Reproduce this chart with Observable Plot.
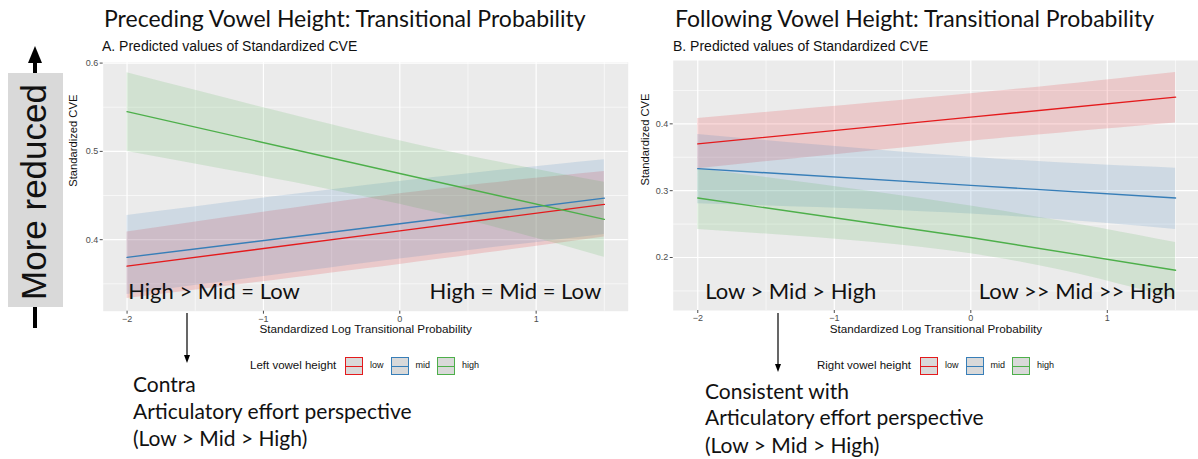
<!DOCTYPE html>
<html><head><meta charset="utf-8">
<script src="https://cdn.jsdelivr.net/npm/d3@7"></script>
<script src="https://cdn.jsdelivr.net/npm/@observablehq/plot@0.6"></script>
<style>
html,body{margin:0;padding:0;background:#fff;}
#root{position:relative;width:1198px;height:459px;overflow:hidden;}
.abs{position:absolute;white-space:nowrap;}
.big{font-family:Lato,"Open Sans",sans-serif;color:#111;}
.sub{font-family:"Liberation Sans",Arial,sans-serif;color:#111;}
.leg{font-family:"Liberation Sans",Arial,sans-serif;color:#111;}
svg.plot{position:absolute;top:0;}
</style></head>
<body><div id="root"></div>
<script>
// ---- data ----
const xPts = [-2, 0, 1.5];
const levels = ["low", "mid", "high"];
const colors = ["#E41A1C", "#377EB8", "#4DAF4A"];

// Panel A: preceding (left) vowel height
const precLowFit  = [0.370, 0.410, 0.440];
const precLowLo   = [0.3335, 0.372, 0.403];
const precLowHi   = [0.4086, 0.452, 0.4773];
const precMidFit  = [0.380, 0.418, 0.447];
const precMidLo   = [0.338, 0.378, 0.406];
const precMidHi   = [0.4275, 0.466, 0.4906];
const precHighFit = [0.545, 0.475, 0.423];
const precHighLo  = [0.500, 0.440, 0.380];
const precHighHi  = [0.589, 0.512, 0.465];

// Panel B: following (right) vowel height
const follLowFit  = [0.370, 0.410, 0.440];
const follLowLo   = [0.333, 0.374, 0.4014];
const follLowHi   = [0.408, 0.445, 0.477];
const follMidFit  = [0.333, 0.308, 0.289];
const follMidLo   = [0.2805, 0.265, 0.242];
const follMidHi   = [0.384, 0.350, 0.3336];
const follHighFit = [0.289, 0.230, 0.181];
const follHighLo  = [0.242, 0.2055, 0.138];
const follHighHi  = [0.333, 0.277, 0.2225];

const xMajor = [-2, -1, 0, 1];
const xMinor = [-1.5, -0.5, 0.5, 1.5];
const aYMajor = [0.4, 0.5, 0.6];
const aYMinor = [0.35, 0.45, 0.55];
const bYMajor = [0.2, 0.3, 0.4];
const bYMinor = [0.15, 0.25, 0.35, 0.45];

function rows(fits, los, his) {
  const out = [];
  levels.forEach((g, gi) => xPts.forEach((x, i) => out.push({group: g, x, fit: fits[gi][i], lo: los[gi][i], hi: his[gi][i]})));
  return out;
}
const dataA = rows([precLowFit, precMidFit, precHighFit], [precLowLo, precMidLo, precHighLo], [precLowHi, precMidHi, precHighHi]);
const dataB = rows([follLowFit, follMidFit, follHighFit], [follLowLo, follMidLo, follHighLo], [follLowHi, follMidHi, follHighHi]);

const fmtX = d => d < 0 ? "\u2212" + (-d) : String(d);
const fmtY = d => d.toFixed(1);

function panel(opts) {
  return Plot.plot({
    width: opts.width, height: 459,
    marginLeft: opts.ml, marginRight: opts.mr, marginTop: opts.mt, marginBottom: 459 - opts.bottom,
    x: {domain: opts.xdom},
    y: {domain: opts.ydom},
    color: {domain: levels, range: colors},
    style: {background: "transparent", overflow: "visible"},
    marks: [
      Plot.frame({fill: "#EBEBEB", stroke: null}),
      Plot.ruleY(opts.yMinor, {stroke: "white", strokeWidth: 0.6}),
      Plot.ruleX(xMinor, {stroke: "white", strokeWidth: 0.6}),
      Plot.ruleY(opts.yMajor, {stroke: "white", strokeWidth: 1.2}),
      Plot.ruleX(xMajor, {stroke: "white", strokeWidth: 1.2}),
      Plot.areaY(opts.data, {x: "x", y1: "lo", y2: "hi", z: "group", fill: "group", fillOpacity: 0.16, curve: "natural"}),
      Plot.line(opts.data, {x: "x", y: "fit", z: "group", stroke: "group", strokeWidth: 1.4}),
      Plot.axisX({ticks: xMajor, tickFormat: fmtX, tickSize: 3, tickPadding: 1, fontSize: 9, color: "#4D4D4D", label: null, fontFamily: "Liberation Sans"}),
      Plot.axisY({ticks: opts.yMajor, tickFormat: fmtY, tickSize: 3, tickPadding: 2, fontSize: 9, color: "#4D4D4D", label: null, fontFamily: "Liberation Sans"}),
      Plot.text(["Standardized Log Transitional Probability"], {frameAnchor: "bottom", dy: 22, fontSize: 11.7, fill: "#111", fontFamily: "Liberation Sans"}),
      Plot.text(["Standardized CVE"], {frameAnchor: "left", dx: opts.ytdx, rotate: -90, fontSize: 11.2, fill: "#111", fontFamily: "Liberation Sans"}),
      Plot.text([opts.noteL], {frameAnchor: "bottom-left", dx: opts.noteLdx, dy: -12, textAnchor: "start", fontSize: 22, fill: "#111", fontFamily: "Lato"}),
      Plot.text([opts.noteR], {frameAnchor: "bottom-right", dx: opts.noteRdx, dy: -12, textAnchor: "end", fontSize: 22, fill: "#111", fontFamily: "Lato"})
    ]
  });
}

const root = document.getElementById("root");
const pA = panel({width: 640, ml: 102.7, mr: 12.3, mt: 61.7, bottom: 310.7, xdom: [-2.175, 1.675], ydom: [0.319, 0.601],
  yMajor: aYMajor, yMinor: aYMinor, data: dataA, ytdx: -30, noteL: "High > Mid = Low", noteLdx: 25, noteR: "High = Mid = Low", noteRdx: -27});
pA.setAttribute("class", "plot"); pA.style.left = "0px";
root.appendChild(pA);
const pB = panel({width: 558, ml: 32.7, mr: 0, mt: 60, bottom: 310, xdom: [-2.18, 1.668], ydom: [0.1207, 0.4948],
  yMajor: bYMajor, yMinor: bYMinor, data: dataB, ytdx: -28, noteL: "Low > Mid > High", noteLdx: 32, noteR: "Low >> Mid >> High", noteRdx: -23});
pB.setAttribute("class", "plot"); pB.style.left = "640px";
root.appendChild(pB);

function addText(txt, cls, x, y, size, extra) {
  const d = document.createElement("div");
  d.className = "abs " + cls;
  d.textContent = txt;
  d.style.left = x + "px"; d.style.top = y + "px"; d.style.fontSize = size + "px"; d.style.lineHeight = "1";
  if (extra) Object.assign(d.style, extra);
  root.appendChild(d);
  return d;
}
addText("Preceding Vowel Height: Transitional Probability", "big", 104, 7, 23);
addText("Following Vowel Height: Transitional Probability", "big", 675, 7, 23);
addText("A. Predicted values of Standardized CVE", "sub", 102, 39, 14);
addText("B. Predicted values of Standardized CVE", "sub", 673, 39, 14);
addText("Contra", "big", 133, 373, 21);
addText("Articulatory effort perspective", "big", 133, 400, 21);
addText("(Low > Mid > High)", "big", 133, 427, 21);
addText("Consistent with", "big", 705, 380, 21);
addText("Articulatory effort perspective", "big", 705, 406, 21);
addText("(Low > Mid > High)", "big", 705, 434, 21);

// legends
function legend(title, x0, keyXs, y) {
  addText(title, "leg", x0, y - 6, 11.5);
  levels.forEach((g, i) => {
    const k = document.createElement("div");
    k.className = "abs";
    Object.assign(k.style, {left: keyXs[i] + "px", top: (y - 9) + "px", width: "16px", height: "16px",
      border: "1px solid " + colors[i], background: "#D9D9D9"});
    const ln = document.createElement("div");
    Object.assign(ln.style, {position: "absolute", left: "0", top: "7.5px", width: "16px", height: "1.3px", background: colors[i]});
    k.appendChild(ln);
    root.appendChild(k);
    addText(g, "leg", keyXs[i] + 25, y - 5, 9);
  });
}
legend("Left vowel height", 250, [345, 390.5, 437], 366);
legend("Right vowel height", 817, [920, 965.5, 1012], 366);

// decorations: arrows and "More reduced" box
const ns = "http://www.w3.org/2000/svg";
const deco = document.createElementNS(ns, "svg");
deco.setAttribute("width", 1198); deco.setAttribute("height", 459);
Object.assign(deco.style, {position: "absolute", left: "0", top: "0"});
deco.innerHTML = `
  <line x1="35" y1="60" x2="35" y2="328" stroke="#000" stroke-width="4"/>
  <polygon points="35,46 28,63 42,63" fill="#000"/>
  <rect x="8" y="73" width="55" height="234" fill="#D9D9D9"/>
  <line x1="187" y1="313" x2="187" y2="357" stroke="#000" stroke-width="1.2"/>
  <polygon points="187,363 184,355 190,355" fill="#000"/>
  <line x1="778" y1="313" x2="778" y2="366" stroke="#000" stroke-width="1.2"/>
  <polygon points="778,372 775,364 781,364" fill="#000"/>
  <text x="46" y="192" transform="rotate(-90 46 192)" text-anchor="middle" font-family="Liberation Sans, Arial" font-size="35" fill="#111">More reduced</text>
`;
root.appendChild(deco);
</script></body></html>
